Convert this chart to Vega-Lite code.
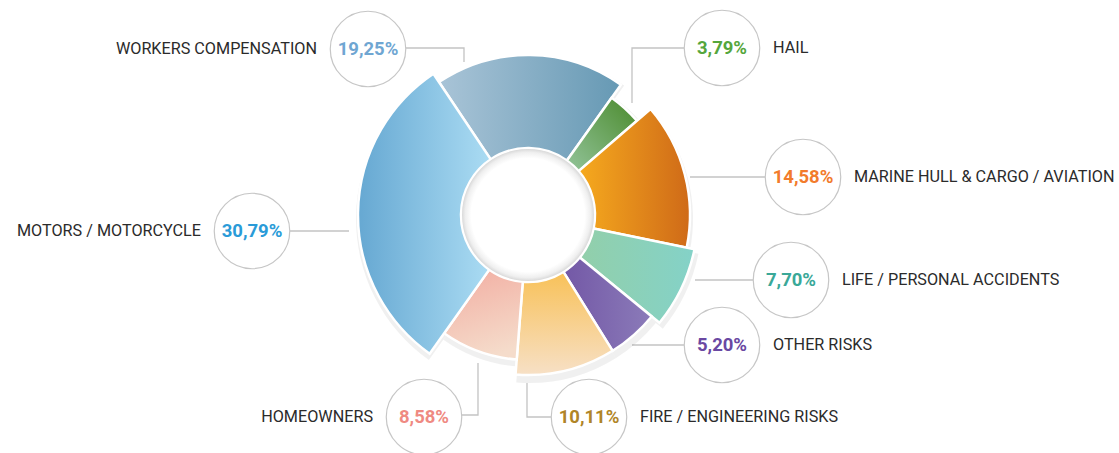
{
  "$schema": "https://vega.github.io/schema/vega-lite/v6.json",
  "width": 1119,
  "height": 453,
  "autosize": {"type": "none"},
  "padding": 0,
  "background": "white",
  "config": {
    "view": {"stroke": null},
    "axis": {"disable": true},
    "locale": {"number": {"decimal": ",", "thousands": ".", "grouping": [3], "currency": ["", " €"]}}
  },
  "datasets": {
    "shares": [
      {"category": "WORKERS COMPENSATION", "share": 0.1925, "rank": 1},
      {"category": "HAIL", "share": 0.0379, "rank": 2},
      {"category": "MARINE HULL & CARGO / AVIATION", "share": 0.1458, "rank": 3},
      {"category": "LIFE / PERSONAL ACCIDENTS", "share": 0.0770, "rank": 4},
      {"category": "OTHER RISKS", "share": 0.0520, "rank": 5},
      {"category": "FIRE / ENGINEERING RISKS", "share": 0.1011, "rank": 6},
      {"category": "HOMEOWNERS", "share": 0.0858, "rank": 7},
      {"category": "MOTORS / MOTORCYCLE", "share": 0.3079, "rank": 8}
    ],
    "callouts": [
      {"category": "WORKERS COMPENSATION", "cx": -160, "cy": 166},
      {"category": "HAIL", "cx": 194, "cy": 167},
      {"category": "MARINE HULL & CARGO / AVIATION", "cx": 275, "cy": 38},
      {"category": "LIFE / PERSONAL ACCIDENTS", "cx": 263, "cy": -65},
      {"category": "OTHER RISKS", "cx": 194, "cy": -130},
      {"category": "FIRE / ENGINEERING RISKS", "cx": 61, "cy": -202},
      {"category": "HOMEOWNERS", "cx": -104, "cy": -202},
      {"category": "MOTORS / MOTORCYCLE", "cx": -276, "cy": -16}
    ],
    "leaders": [
      {"category": "WORKERS COMPENSATION", "k": 1, "x": -122, "y": 167},
      {"category": "WORKERS COMPENSATION", "k": 2, "x": -64, "y": 167},
      {"category": "WORKERS COMPENSATION", "k": 3, "x": -64, "y": 153},
      {"category": "HAIL", "k": 1, "x": 156, "y": 167},
      {"category": "HAIL", "k": 2, "x": 104, "y": 167},
      {"category": "HAIL", "k": 3, "x": 104, "y": 112},
      {"category": "MARINE HULL & CARGO / AVIATION", "k": 1, "x": 237, "y": 38},
      {"category": "MARINE HULL & CARGO / AVIATION", "k": 2, "x": 162, "y": 38},
      {"category": "LIFE / PERSONAL ACCIDENTS", "k": 1, "x": 225, "y": -65},
      {"category": "LIFE / PERSONAL ACCIDENTS", "k": 2, "x": 167, "y": -65},
      {"category": "OTHER RISKS", "k": 1, "x": 156, "y": -130},
      {"category": "OTHER RISKS", "k": 2, "x": 104, "y": -130},
      {"category": "FIRE / ENGINEERING RISKS", "k": 1, "x": 24, "y": -202},
      {"category": "FIRE / ENGINEERING RISKS", "k": 2, "x": -1, "y": -202},
      {"category": "FIRE / ENGINEERING RISKS", "k": 3, "x": -1, "y": -168},
      {"category": "HOMEOWNERS", "k": 1, "x": -66, "y": -200},
      {"category": "HOMEOWNERS", "k": 2, "x": -50, "y": -200},
      {"category": "HOMEOWNERS", "k": 3, "x": -50, "y": -148},
      {"category": "MOTORS / MOTORCYCLE", "k": 1, "x": -238, "y": -16},
      {"category": "MOTORS / MOTORCYCLE", "k": 2, "x": -179, "y": -16}
    ]
  },
  "layer": [
    {
      "data": {"name": "leaders"},
      "mark": {"type": "line", "stroke": "#c3c3c3", "strokeWidth": 1.3},
      "encoding": {
        "x": {"field": "x", "type": "quantitative", "scale": {"domain": [-528, 591], "nice": false, "zero": false}},
        "y": {"field": "y", "type": "quantitative", "scale": {"domain": [-238, 215], "nice": false, "zero": false}},
        "detail": {"field": "category"},
        "order": {"field": "k"}
      }
    },
    {
      "data": {"name": "shares"},
      "transform": [
        {"stack": "share", "groupby": [], "sort": [{"field": "rank", "order": "ascending"}], "as": ["v0", "v1"]},
        {"filter": "indexof(['LIFE / PERSONAL ACCIDENTS', 'MOTORS / MOTORCYCLE'], datum.category) >= 0"}
      ],
      "mark": {"type": "arc", "innerRadius": 67, "outerRadius": 173, "fill": "#000000", "opacity": 0.06},
      "encoding": {
        "x": {"datum": 1, "type": "quantitative"},
        "y": {"datum": -4, "type": "quantitative"},
        "theta": {"field": "v0", "type": "quantitative", "scale": {"domain": [0, 1], "range": [-0.59, 5.6932]}},
        "theta2": {"field": "v1"}
      }
    },
    {
      "data": {"name": "shares"},
      "transform": [
        {"stack": "share", "groupby": [], "sort": [{"field": "rank", "order": "ascending"}], "as": ["v0", "v1"]},
        {"filter": "indexof(['WORKERS COMPENSATION', 'OTHER RISKS', 'FIRE / ENGINEERING RISKS', 'MARINE HULL & CARGO / AVIATION'], datum.category) >= 0"}
      ],
      "mark": {"type": "arc", "innerRadius": 67, "outerRadius": 164, "fill": "#000000", "opacity": 0.06},
      "encoding": {
        "x": {"datum": 1, "type": "quantitative"},
        "y": {"datum": -4, "type": "quantitative"},
        "theta": {"field": "v0", "type": "quantitative"},
        "theta2": {"field": "v1"}
      }
    },
    {
      "data": {"name": "shares"},
      "transform": [
        {"stack": "share", "groupby": [], "sort": [{"field": "rank", "order": "ascending"}], "as": ["v0", "v1"]},
        {"filter": "indexof(['HAIL', 'HOMEOWNERS'], datum.category) >= 0"}
      ],
      "mark": {"type": "arc", "innerRadius": 67, "outerRadius": 148, "fill": "#000000", "opacity": 0.06},
      "encoding": {
        "x": {"datum": 1, "type": "quantitative"},
        "y": {"datum": -4, "type": "quantitative"},
        "theta": {"field": "v0", "type": "quantitative"},
        "theta2": {"field": "v1"}
      }
    },
    {
      "data": {"name": "shares"},
      "transform": [
        {"stack": "share", "groupby": [], "sort": [{"field": "rank", "order": "ascending"}], "as": ["v0", "v1"]},
        {"filter": "datum.category === 'WORKERS COMPENSATION'"}
      ],
      "mark": {"type": "arc", "innerRadius": 67, "outerRadius": 160, "stroke": "white", "strokeWidth": 2.5,
        "fill": {"gradient": "linear", "x1": 0, "y1": 0, "x2": 1, "y2": 0, "stops": [{"offset": 0, "color": "#a9c4d7"}, {"offset": 1, "color": "#6699b4"}]}},
      "encoding": {
        "x": {"datum": 0, "type": "quantitative"},
        "y": {"datum": 0, "type": "quantitative"},
        "theta": {"field": "v0", "type": "quantitative"},
        "theta2": {"field": "v1"}
      }
    },
    {
      "data": {"name": "shares"},
      "transform": [
        {"stack": "share", "groupby": [], "sort": [{"field": "rank", "order": "ascending"}], "as": ["v0", "v1"]},
        {"filter": "datum.category === 'HAIL'"}
      ],
      "mark": {"type": "arc", "innerRadius": 67, "outerRadius": 144, "stroke": "white", "strokeWidth": 2.5,
        "fill": {"gradient": "linear", "x1": 0, "y1": 1, "x2": 1, "y2": 0, "stops": [{"offset": 0, "color": "#93c49a"}, {"offset": 1, "color": "#4a8a2c"}]}},
      "encoding": {
        "x": {"datum": 0, "type": "quantitative"},
        "y": {"datum": 0, "type": "quantitative"},
        "theta": {"field": "v0", "type": "quantitative"},
        "theta2": {"field": "v1"}
      }
    },
    {
      "data": {"name": "shares"},
      "transform": [
        {"stack": "share", "groupby": [], "sort": [{"field": "rank", "order": "ascending"}], "as": ["v0", "v1"]},
        {"filter": "datum.category === 'MARINE HULL & CARGO / AVIATION'"}
      ],
      "mark": {"type": "arc", "innerRadius": 67, "outerRadius": 162, "stroke": "white", "strokeWidth": 2.5,
        "fill": {"gradient": "linear", "x1": 0, "y1": 0, "x2": 1, "y2": 0, "stops": [{"offset": 0, "color": "#f6aa1e"}, {"offset": 1, "color": "#cf6a18"}]}},
      "encoding": {
        "x": {"datum": 0, "type": "quantitative"},
        "y": {"datum": 0, "type": "quantitative"},
        "theta": {"field": "v0", "type": "quantitative"},
        "theta2": {"field": "v1"}
      }
    },
    {
      "data": {"name": "shares"},
      "transform": [
        {"stack": "share", "groupby": [], "sort": [{"field": "rank", "order": "ascending"}], "as": ["v0", "v1"]},
        {"filter": "datum.category === 'LIFE / PERSONAL ACCIDENTS'"}
      ],
      "mark": {"type": "arc", "innerRadius": 67, "outerRadius": 170, "stroke": "white", "strokeWidth": 2.5,
        "fill": {"gradient": "linear", "x1": 0, "y1": 0, "x2": 1, "y2": 0, "stops": [{"offset": 0, "color": "#92cfaa"}, {"offset": 1, "color": "#84d2c8"}]}},
      "encoding": {
        "x": {"datum": 0, "type": "quantitative"},
        "y": {"datum": 0, "type": "quantitative"},
        "theta": {"field": "v0", "type": "quantitative"},
        "theta2": {"field": "v1"}
      }
    },
    {
      "data": {"name": "shares"},
      "transform": [
        {"stack": "share", "groupby": [], "sort": [{"field": "rank", "order": "ascending"}], "as": ["v0", "v1"]},
        {"filter": "datum.category === 'OTHER RISKS'"}
      ],
      "mark": {"type": "arc", "innerRadius": 67, "outerRadius": 160, "stroke": "white", "strokeWidth": 2.5,
        "fill": {"gradient": "linear", "x1": 0, "y1": 0, "x2": 1, "y2": 0, "stops": [{"offset": 0, "color": "#7358a6"}, {"offset": 1, "color": "#8b7bb9"}]}},
      "encoding": {
        "x": {"datum": 0, "type": "quantitative"},
        "y": {"datum": 0, "type": "quantitative"},
        "theta": {"field": "v0", "type": "quantitative"},
        "theta2": {"field": "v1"}
      }
    },
    {
      "data": {"name": "shares"},
      "transform": [
        {"stack": "share", "groupby": [], "sort": [{"field": "rank", "order": "ascending"}], "as": ["v0", "v1"]},
        {"filter": "datum.category === 'FIRE / ENGINEERING RISKS'"}
      ],
      "mark": {"type": "arc", "innerRadius": 67, "outerRadius": 160, "stroke": "white", "strokeWidth": 2.5,
        "fill": {"gradient": "linear", "x1": 0, "y1": 0, "x2": 0, "y2": 1, "stops": [{"offset": 0, "color": "#f8c158"}, {"offset": 1, "color": "#f7e0c6"}]}},
      "encoding": {
        "x": {"datum": 0, "type": "quantitative"},
        "y": {"datum": 0, "type": "quantitative"},
        "theta": {"field": "v0", "type": "quantitative"},
        "theta2": {"field": "v1"}
      }
    },
    {
      "data": {"name": "shares"},
      "transform": [
        {"stack": "share", "groupby": [], "sort": [{"field": "rank", "order": "ascending"}], "as": ["v0", "v1"]},
        {"filter": "datum.category === 'HOMEOWNERS'"}
      ],
      "mark": {"type": "arc", "innerRadius": 67, "outerRadius": 145, "stroke": "white", "strokeWidth": 2.5,
        "fill": {"gradient": "linear", "x1": 0.2, "y1": 0, "x2": 0.5, "y2": 1, "stops": [{"offset": 0, "color": "#f2afa3"}, {"offset": 1, "color": "#f5dccb"}]}},
      "encoding": {
        "x": {"datum": 0, "type": "quantitative"},
        "y": {"datum": 0, "type": "quantitative"},
        "theta": {"field": "v0", "type": "quantitative"},
        "theta2": {"field": "v1"}
      }
    },
    {
      "data": {"name": "shares"},
      "transform": [
        {"stack": "share", "groupby": [], "sort": [{"field": "rank", "order": "ascending"}], "as": ["v0", "v1"]},
        {"filter": "datum.category === 'MOTORS / MOTORCYCLE'"}
      ],
      "mark": {"type": "arc", "innerRadius": 67, "outerRadius": 170, "stroke": "white", "strokeWidth": 2.5,
        "fill": {"gradient": "linear", "x1": 0, "y1": 0, "x2": 1, "y2": 0, "stops": [{"offset": 0, "color": "#66a8d2"}, {"offset": 1, "color": "#abdcf3"}]}},
      "encoding": {
        "x": {"datum": 0, "type": "quantitative"},
        "y": {"datum": 0, "type": "quantitative"},
        "theta": {"field": "v0", "type": "quantitative"},
        "theta2": {"field": "v1"}
      }
    },
    {
      "data": {"values": [{"part": "hole"}]},
      "mark": {"type": "arc", "theta": 0, "theta2": 6.2832, "outerRadius": 66,
        "fill": {"gradient": "radial", "x1": 0.5, "y1": 0.5, "r1": 0, "x2": 0.5, "y2": 0.5, "r2": 0.5,
          "stops": [{"offset": 0, "color": "#ffffff"}, {"offset": 0.86, "color": "#ffffff"}, {"offset": 0.95, "color": "#efefef"}, {"offset": 1, "color": "#d9d9d9"}]}},
      "encoding": {
        "x": {"datum": 0, "type": "quantitative"},
        "y": {"datum": 0, "type": "quantitative"}
      }
    },
    {
      "data": {"name": "callouts"},
      "mark": {"type": "point", "shape": "circle", "size": 5700, "filled": true, "fill": "white", "stroke": "#c6c6c6", "strokeWidth": 1.2, "opacity": 1},
      "encoding": {
        "x": {"field": "cx", "type": "quantitative"},
        "y": {"field": "cy", "type": "quantitative"}
      }
    },
    {
      "data": {"name": "callouts"},
      "transform": [{"lookup": "category", "from": {"data": {"name": "shares"}, "key": "category", "fields": ["share"]}}],
      "mark": {"type": "text", "font": "Roboto", "fontWeight": "bold", "fontSize": 18.5, "align": "center", "baseline": "middle"},
      "encoding": {
        "x": {"field": "cx", "type": "quantitative"},
        "y": {"field": "cy", "type": "quantitative"},
        "text": {"field": "share", "type": "quantitative", "format": ".2%"},
        "color": {"field": "category", "type": "nominal", "legend": null,
          "scale": {"domain": ["WORKERS COMPENSATION", "HAIL", "MARINE HULL & CARGO / AVIATION", "LIFE / PERSONAL ACCIDENTS", "OTHER RISKS", "FIRE / ENGINEERING RISKS", "HOMEOWNERS", "MOTORS / MOTORCYCLE"],
            "range": ["#6fa6d2", "#55a63c", "#f27b2c", "#3aa898", "#6a48a2", "#b08528", "#ef8a82", "#2a9bd8"]}}
      }
    },
    {
      "data": {"name": "callouts"},
      "transform": [{"filter": "datum.cx < 0"}],
      "mark": {"type": "text", "font": "Roboto", "fontSize": 16.2, "align": "right", "baseline": "middle", "dx": -51, "fill": "#2b2b2b"},
      "encoding": {
        "x": {"field": "cx", "type": "quantitative"},
        "y": {"field": "cy", "type": "quantitative"},
        "text": {"field": "category", "type": "nominal"}
      }
    },
    {
      "data": {"name": "callouts"},
      "transform": [{"filter": "datum.cx >= 0"}],
      "mark": {"type": "text", "font": "Roboto", "fontSize": 16.2, "align": "left", "baseline": "middle", "dx": 51, "fill": "#2b2b2b"},
      "encoding": {
        "x": {"field": "cx", "type": "quantitative"},
        "y": {"field": "cy", "type": "quantitative"},
        "text": {"field": "category", "type": "nominal"}
      }
    }
  ]
}
